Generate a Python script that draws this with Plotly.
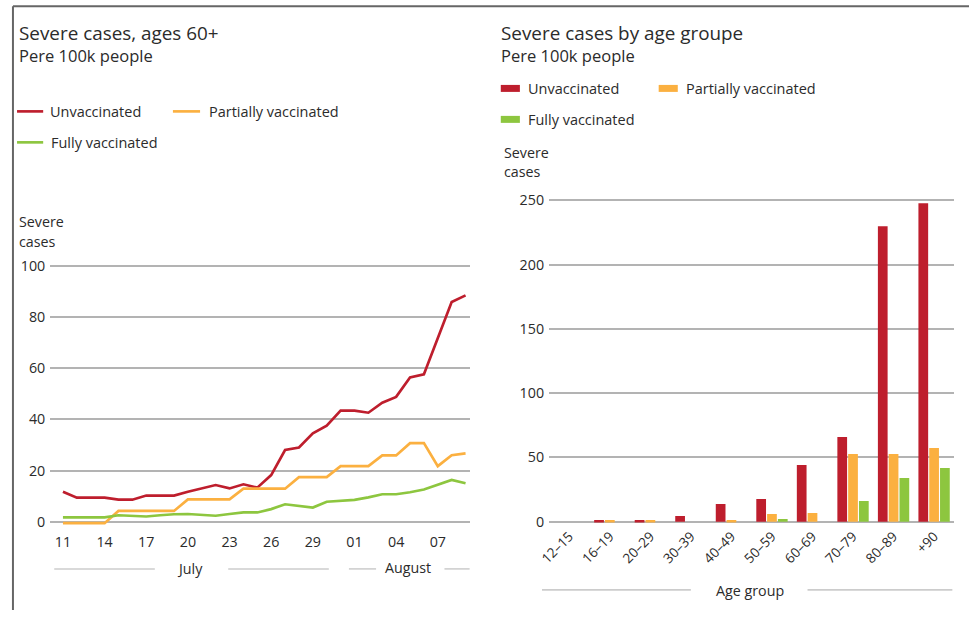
import plotly.graph_objects as go
import pandas as pd

W, H = 969, 618
FONT = "Open Sans"
TXT = "#2b2b2b"
RED = "#be1e2d"
ORANGE = "#fbb040"
GREEN = "#8dc63f"
GRID = "#b3b3b3"

# ---------------- data ----------------
dates = pd.date_range("2021-07-11", "2021-08-09", freq="D")
unvaccinated = [11.7, 9.4, 9.4, 9.4, 8.6, 8.6, 10.2, 10.2, 10.2, 11.7,
                13.0, 14.3, 13.0, 14.6, 13.3, 18.2, 28.0, 29.0, 34.5, 37.5,
                43.4, 43.4, 42.6, 46.5, 48.8, 56.4, 57.6, 71.6, 85.9, 88.5]
partially = [-0.6, -0.6, -0.6, -0.6, 4.2, 4.2, 4.2, 4.2, 4.2, 8.7,
             8.7, 8.7, 8.7, 12.9, 12.9, 12.9, 12.9, 17.4, 17.4, 17.4,
             21.7, 21.7, 21.7, 25.9, 25.9, 30.7, 30.7, 21.7, 26.0, 26.7]
fully = [1.7, 1.7, 1.7, 1.7, 2.5, 2.2, 2.0, 2.5, 2.9, 3.0,
         2.6, 2.3, 3.0, 3.6, 3.6, 4.9, 6.8, 6.1, 5.5, 7.8,
         8.2, 8.5, 9.5, 10.7, 10.7, 11.5, 12.6, 14.3, 16.3, 15.0]

age_groups = ["12–15", "16–19", "20–29", "30–39", "40–49",
              "50–59", "60–69", "70–79", "80–89", "+90"]
age_unvacc = [0, 1.3, 1.3, 4.4, 13.7, 17.6, 44.0, 65.8, 229.8, 247.7]
age_partial = [0, 1.3, 1.3, 0, 1.3, 6.0, 6.7, 52.6, 52.6, 57.3]
age_fully = [0, 0, 0, 0, 0, 2.0, 0, 16.0, 34.0, 41.7]

series_names = ["Unvaccinated", "Partially vaccinated", "Fully vaccinated"]
colors = [RED, ORANGE, GREEN]

# The rendered page appears slightly scaled/offset in the photograph; compensate.
SX, OX = 0.982, 15.0
SY, OY = 0.98, 4.5
K = 1 / SY  # font/line scale


def fxp(x):
    return (x - OX) / SX


def fyp(y):
    return (y - OY) / SY


def px(x):
    return min(max(fxp(x) / W, 0.0), 1.0)


def py(y):
    return min(max(1 - fyp(y) / H, 0.0), 1.0)


fig = go.Figure()

# left: line chart
for name, vals, col in zip(series_names, [unvaccinated, partially, fully], colors):
    fig.add_trace(go.Scatter(x=dates, y=vals, mode="lines", name=name,
                             line=dict(color=col, width=2.6 * K),
                             xaxis="x", yaxis="y", showlegend=False))

# right: bar chart
for name, vals, col in zip(series_names, [age_unvacc, age_partial, age_fully], colors):
    fig.add_trace(go.Bar(x=age_groups, y=vals, name=name, marker=dict(color=col, line=dict(width=0)),
                         xaxis="x2", yaxis="y2", showlegend=False))

x0 = pd.Timestamp("2021-07-11") - pd.Timedelta(hours=22)
x1 = pd.Timestamp("2021-08-09") + pd.Timedelta(hours=7)

# left y: value 0 at ref y 521.7, value 100 at ref y 265.7
l_y0, l_y100 = fyp(521.7), fyp(265.7)
l_ppu = (l_y0 - l_y100) / 100
l_bot, l_top = l_y0 + 3 * l_ppu, l_y100 - 2 * l_ppu
# right y: 0 at 521.7, 250 at 200
r_y0, r_y250 = fyp(521.7), fyp(200)
r_ppu = (r_y0 - r_y250) / 250
r_bot, r_top = r_y0 + 1 * r_ppu, r_y250 - 6 * r_ppu

fig.update_layout(
    width=W, height=H,
    margin=dict(l=0, r=0, t=0, b=0),
    paper_bgcolor="white", plot_bgcolor="white",
    font=dict(family=FONT, color=TXT, size=14 * K),
    barmode="group", bargap=0.2, bargroupgap=0.1,
    xaxis=dict(domain=[px(53), px(470)], type="date", range=[x0, x1],
               tick0="2021-07-11", dtick=3 * 86400000, tickformat="%d",
               showgrid=False, showline=False, zeroline=False, ticks="",
               tickfont=dict(size=14 * K, color=TXT), anchor="y", ticklabelstandoff=2),
    yaxis=dict(domain=[1 - l_bot / H, 1 - l_top / H], range=[-3, 102],
               tickvals=[0, 20, 40, 60, 80, 100], showgrid=True, gridcolor=GRID, gridwidth=1.5 * K,
               zeroline=False, showline=False, ticks="", tickfont=dict(size=14 * K, color=TXT),
               anchor="x", ticklabelstandoff=4),
    xaxis2=dict(domain=[px(549), px(952)], type="category", range=[-0.5, 9.5],
                tickangle=-45, showgrid=False, showline=False, zeroline=False, ticks="",
                tickfont=dict(size=13.3 * K, color=TXT), anchor="y2", ticklabelstandoff=2),
    yaxis2=dict(domain=[1 - r_bot / H, 1 - r_top / H], range=[-1, 256],
                tickvals=[0, 50, 100, 150, 200, 250], showgrid=True, gridcolor=GRID, gridwidth=1.5 * K,
                zeroline=False, showline=False, ticks="", tickfont=dict(size=14 * K, color=TXT),
                anchor="x2", ticklabelstandoff=4),
)

ann = []
shapes = []


def text(x, y, s, size=14, xanchor="left", yanchor="middle"):
    ann.append(dict(x=px(x), y=py(y), xref="paper", yref="paper", text=s, showarrow=False,
                    xanchor=xanchor, yanchor=yanchor, font=dict(size=size * K, color=TXT, family=FONT)))


def hline(xa, xb, y, color, width):
    shapes.append(dict(type="line", xref="paper", yref="paper", x0=px(xa), x1=px(xb),
                       y0=py(y), y1=py(y), line=dict(color=color, width=width * K)))


# frame
shapes.append(dict(type="line", xref="paper", yref="paper", x0=0.001, x1=1, y0=0.998, y1=0.998,
                   line=dict(color="#666666", width=2)))
shapes.append(dict(type="line", xref="paper", yref="paper", x0=0.001, x1=0.001, y0=0.998, y1=0,
                   line=dict(color="#666666", width=2)))

# titles
text(20, 33, "Severe cases, ages 60+", size=18.5)
text(20, 55, "Pere 100k people", size=16.2)
text(499, 33, "Severe cases by age groupe", size=18.5)
text(499, 55, "Pere 100k people", size=16.2)

# left legend
hline(20, 46, 111, RED, 2.6)
text(51, 111, "Unvaccinated", size=14.2)
hline(175, 202, 111, ORANGE, 2.6)
text(209, 111, "Partially vaccinated", size=14.2)
hline(20, 46, 142, GREEN, 2.6)
text(52, 142, "Fully vaccinated", size=14.2)

# right legend
for (xa, y, col, label) in [(501, 88, RED, "Unvaccinated"), (658, 88, ORANGE, "Partially vaccinated"),
                            (501, 119, GREEN, "Fully vaccinated")]:
    shapes.append(dict(type="rect", xref="paper", yref="paper", x0=px(xa), x1=px(xa + 19),
                       y0=py(y + 3.5), y1=py(y - 3.5), fillcolor=col, line=dict(width=0)))
    text(xa + 25, y, label, size=14.2)

# axis titles
text(20, 221, "Severe", size=14)
text(20, 241, "cases", size=14)
text(502, 152, "Severe", size=14)
text(502, 171, "cases", size=14)

# month labels
text(192, 569, "July", size=14, xanchor="center")
hline(57, 157, 569, "#cccccc", 1.5)
hline(230, 330, 569, "#cccccc", 1.5)
text(409, 568, "August", size=14, xanchor="center")
hline(350, 377, 569, "#cccccc", 1.5)
hline(445, 470, 569, "#cccccc", 1.5)

# age group label
text(749, 591, "Age group", size=14, xanchor="center")
hline(542, 690, 590, "#cccccc", 1.5)
hline(806, 950, 590, "#cccccc", 1.5)

fig.update_layout(annotations=ann, shapes=shapes)
fig.write_html("out.html", config={"displayModeBar": False},
               post_script="document.body.style.margin='0';document.body.style.overflow='hidden';")
